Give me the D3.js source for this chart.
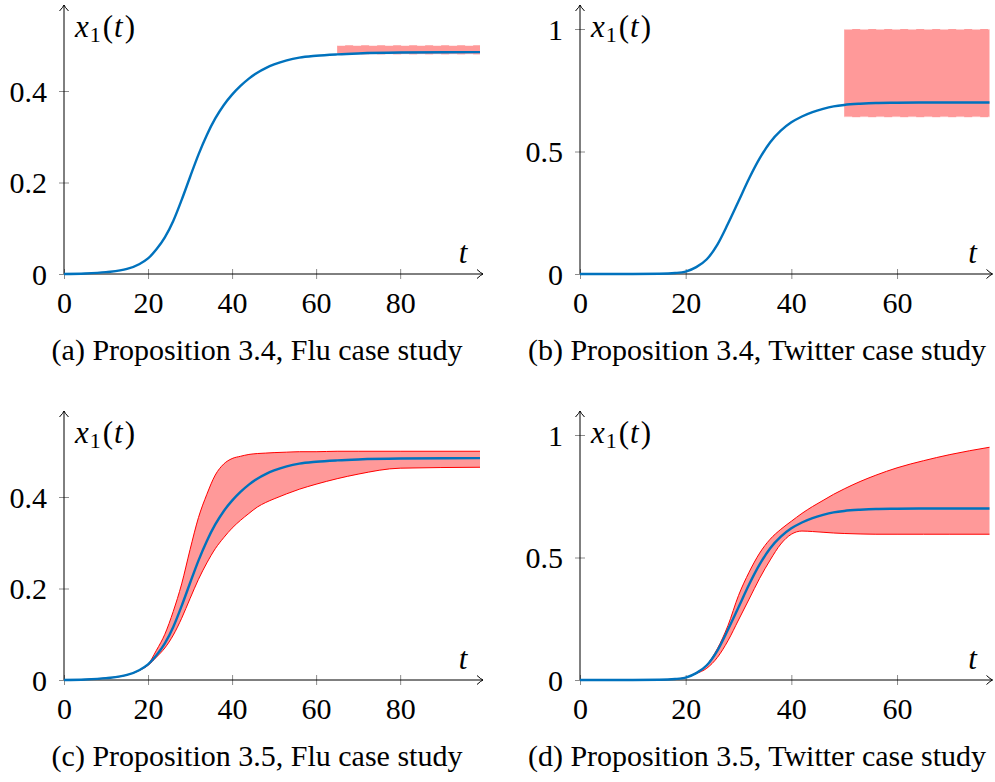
<!DOCTYPE html>
<html>
<head>
<meta charset="utf-8">
<script src="https://cdn.jsdelivr.net/npm/d3@7"></script>
<style>
  body { margin: 0; background: #fff; }
</style>
</head>
<body>
<div class="canvas"></div>
<script>
// ---- data ----
const fluT       = [0, 5, 10, 15, 18, 20, 22, 24, 26, 28, 30, 32, 34, 36, 38, 40, 42, 44, 46, 48, 50, 53, 56, 60, 65, 70, 80, 99];
const fluNominal = [0, 0.001, 0.004, 0.011, 0.022, 0.034, 0.054, 0.080, 0.116, 0.162, 0.212, 0.261, 0.304, 0.340, 0.369, 0.392, 0.411, 0.427, 0.440, 0.450, 0.458, 0.467, 0.473, 0.477, 0.480, 0.482, 0.484, 0.485];
const fluUpper   = [0, 0.001, 0.004, 0.011, 0.022, 0.034, 0.065, 0.100, 0.150, 0.210, 0.285, 0.355, 0.406, 0.448, 0.472, 0.484, 0.489, 0.493, 0.495, 0.496, 0.497, 0.498, 0.499, 0.499, 0.500, 0.500, 0.500, 0.500];
const fluLower   = [0, 0.001, 0.004, 0.011, 0.021, 0.032, 0.050, 0.070, 0.098, 0.135, 0.178, 0.220, 0.256, 0.287, 0.311, 0.332, 0.349, 0.364, 0.378, 0.388, 0.396, 0.407, 0.417, 0.428, 0.440, 0.450, 0.463, 0.465];

const twT       = [0, 10, 15, 18, 20, 22, 24, 26, 28, 30, 32, 34, 36, 38, 40, 42, 44, 46, 48, 50, 53, 56, 60, 65, 70, 77.5];
const twNominal = [0, 0, 0.001, 0.004, 0.010, 0.028, 0.060, 0.120, 0.205, 0.297, 0.390, 0.472, 0.538, 0.585, 0.619, 0.643, 0.661, 0.674, 0.684, 0.690, 0.695, 0.698, 0.699, 0.700, 0.700, 0.700];
const twUpper   = [0, 0, 0.001, 0.004, 0.010, 0.030, 0.062, 0.128, 0.222, 0.345, 0.440, 0.518, 0.575, 0.615, 0.648, 0.680, 0.708, 0.733, 0.758, 0.780, 0.810, 0.836, 0.866, 0.895, 0.920, 0.950];
const twLower   = [0, 0, 0.001, 0.004, 0.010, 0.026, 0.048, 0.092, 0.160, 0.245, 0.330, 0.415, 0.490, 0.555, 0.595, 0.608, 0.606, 0.603, 0.600, 0.598, 0.596, 0.595, 0.595, 0.595, 0.595, 0.595];

// Proposition 3.4 boxes: [t start, t end] and [low, high]
const fluBoxT = [65, 99],   fluBoxX = [0.48, 0.50];
const twBoxT  = [50, 77.5], twBoxX  = [0.64, 1.0];

const fluXTicks = [0, 20, 40, 60, 80], fluYTicks = [0, 0.2, 0.4];
const twXTicks  = [0, 20, 40, 60],     twYTicks  = [0, 0.5, 1];

const captions = [
  '(a) Proposition 3.4, Flu case study',
  '(b) Proposition 3.4, Twitter case study',
  '(c) Proposition 3.5, Flu case study',
  '(d) Proposition 3.5, Twitter case study'
];

const SERIF = '"Liberation Serif", "Times New Roman", serif';

const svg = d3.select('.canvas').append('svg')
    .attr('width', 995)
    .attr('height', 782);

function arrowHead(g, x, y, dir) {
  // latex-ish "to" arrow tip, dir 'r' or 'u'
  const p = dir === 'r'
    ? `M${x - 6},${y - 4.5} Q${x - 2},${y - 0.8} ${x},${y} Q${x - 2},${y + 0.8} ${x - 6},${y + 4.5}`
    : `M${x - 4.5},${y + 6} Q${x - 0.8},${y + 2} ${x},${y} Q${x + 0.8},${y + 2} ${x + 4.5},${y + 6}`;
  g.append('path').attr('d', p).attr('fill', 'none').attr('stroke', '#000').attr('stroke-width', 1);
}

function panel(cfg) {
  const g = svg.append('g');
  const x = d3.scaleLinear().domain([0, cfg.tMax]).range([cfg.x0, cfg.x1]);
  const y = d3.scaleLinear().domain([0, 1]).range([cfg.y0, cfg.y0 - cfg.yUnit]);

  // band (Prop 3.5)
  if (cfg.upper) {
    const rows = cfg.t.map((t, i) => ({ t: t, lo: cfg.lower[i], hi: cfg.upper[i] }));
    g.append('path').datum(rows)
      .attr('d', d3.area().curve(d3.curveMonotoneX).x(d => x(d.t)).y0(d => y(d.lo)).y1(d => y(d.hi)))
      .attr('fill', '#ff9999');
    ['lo', 'hi'].forEach(k => {
      g.append('path').datum(rows)
        .attr('d', d3.line().curve(d3.curveMonotoneX).x(d => x(d.t)).y(d => y(d[k])))
        .attr('fill', 'none').attr('stroke', '#ff0000').attr('stroke-width', 1);
    });
  }

  // box (Prop 3.4)
  if (cfg.boxT) {
    g.append('rect')
      .attr('x', x(cfg.boxT[0])).attr('width', x(cfg.boxT[1]) - x(cfg.boxT[0]))
      .attr('y', y(cfg.boxX[1])).attr('height', y(cfg.boxX[0]) - y(cfg.boxX[1]))
      .attr('fill', '#ff9999');
    cfg.boxX.forEach(v => {
      g.append('line')
        .attr('x1', x(cfg.boxT[0])).attr('x2', x(cfg.boxT[1]))
        .attr('y1', y(v)).attr('y2', y(v))
        .attr('stroke', '#fff').attr('stroke-opacity', 0.7)
        .attr('stroke-width', 1.5).attr('stroke-dasharray', '8,8');
    });
  }

  // axes
  const xAxis = g.append('g').attr('transform', `translate(0,${cfg.y0})`)
    .call(d3.axisBottom(x).tickValues(cfg.xTicks).tickSize(5).tickFormat(d => String(d)))
    .attr('font-family', null).attr('font-size', null);
  xAxis.select('.domain').remove();
  xAxis.selectAll('.tick line').attr('y1', -5).attr('y2', 5).attr('stroke', '#8c8c8c');
  xAxis.selectAll('.tick text').attr('y', 39).attr('dy', null)
    .style('font-family', SERIF).style('font-size', '30px').attr('fill', '#000');

  const yAxis = g.append('g').attr('transform', `translate(${cfg.x0},0)`)
    .call(d3.axisLeft(y).tickValues(cfg.yTicks).tickSize(5).tickFormat(d => String(d)))
    .attr('font-family', null).attr('font-size', null);
  yAxis.select('.domain').remove();
  yAxis.selectAll('.tick line').attr('x1', -5).attr('x2', 5).attr('stroke', '#8c8c8c');
  yAxis.selectAll('.tick text').attr('x', -17).attr('dy', 10)
    .style('font-family', SERIF).style('font-size', '30px').attr('fill', '#000');

  g.append('line').attr('x1', cfg.x0).attr('x2', cfg.x1 + 3).attr('y1', cfg.y0).attr('y2', cfg.y0)
    .attr('stroke', '#000').attr('stroke-width', 1);
  g.append('line').attr('x1', cfg.x0).attr('x2', cfg.x0).attr('y1', cfg.y0).attr('y2', cfg.yTop)
    .attr('stroke', '#000').attr('stroke-width', 1);
  arrowHead(g, cfg.x1 + 3, cfg.y0, 'r');
  arrowHead(g, cfg.x0, cfg.yTop, 'u');

  // nominal trajectory
  g.append('path').datum(cfg.t.map((t, i) => [t, cfg.nominal[i]]))
    .attr('d', d3.line().curve(d3.curveMonotoneX).x(d => x(d[0])).y(d => y(d[1])))
    .attr('fill', 'none').attr('stroke', '#0072bd').attr('stroke-width', 2.4);

  // axis labels
  const lab = g.append('text').attr('x', cfg.x0 + 11).attr('y', cfg.y0 - 237)
    .style('font-family', SERIF).style('font-size', '31px');
  lab.append('tspan').attr('font-style', 'italic').text('x');
  lab.append('tspan').style('font-size', '22px').attr('dx', 1).attr('dy', 5).text('1');
  lab.append('tspan').attr('dx', 2).attr('dy', -5).text('(');
  lab.append('tspan').attr('font-style', 'italic').attr('dx', 1).text('t');
  lab.append('tspan').attr('dx', 2).text(')');

  g.append('text').attr('x', cfg.x1 - 17).attr('y', cfg.y0 - 11)
    .attr('text-anchor', 'middle').attr('font-style', 'italic')
    .style('font-family', SERIF).style('font-size', '31px').text('t');

  g.append('text').attr('x', cfg.capX).attr('y', cfg.y0 + 86)
    .attr('text-anchor', 'middle')
    .style('font-family', SERIF).style('font-size', '30px').text(cfg.caption);
}

const fluBase = { t: fluT, nominal: fluNominal, tMax: 99, x0: 64, x1: 480, yUnit: 457.5, xTicks: fluXTicks, yTicks: fluYTicks, capX: 257 };
const twBase  = { t: twT, nominal: twNominal, tMax: 77.5, x0: 580, x1: 989.5, yUnit: 245, xTicks: twXTicks, yTicks: twYTicks, capX: 757 };

panel(Object.assign({}, fluBase, { y0: 274, yTop: 5, boxT: fluBoxT, boxX: fluBoxX, caption: captions[0] }));
panel(Object.assign({}, twBase,  { y0: 274, yTop: 5, boxT: twBoxT, boxX: twBoxX, caption: captions[1] }));
panel(Object.assign({}, fluBase, { y0: 680, yTop: 411, upper: fluUpper, lower: fluLower, caption: captions[2] }));
panel(Object.assign({}, twBase,  { y0: 680, yTop: 411, upper: twUpper, lower: twLower, caption: captions[3] }));
</script>
</body>
</html>
